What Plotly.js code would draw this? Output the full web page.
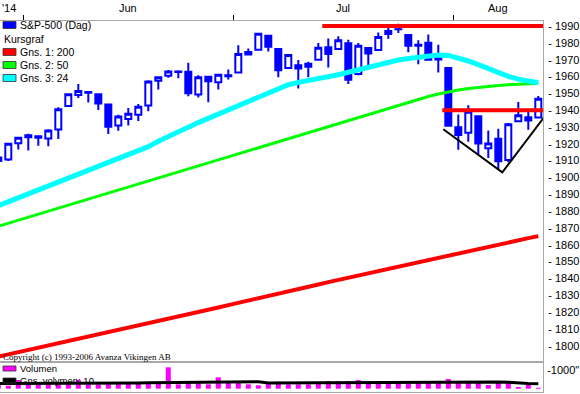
<!DOCTYPE html>
<html><head><meta charset="utf-8">
<script src="https://cdn.plot.ly/plotly-3.0.1.min.js"></script>
<style>html,body{margin:0;padding:0;background:#fff;overflow:hidden}#chart{width:580px;height:394px}</style>
</head><body><div id="chart"></div>
<script>
// ---- data (S&P-500, daily) ----
const dates = ["2014-05-28","2014-05-29","2014-05-30","2014-06-02","2014-06-03","2014-06-04","2014-06-05","2014-06-06","2014-06-09","2014-06-10","2014-06-11","2014-06-12","2014-06-13","2014-06-16","2014-06-17","2014-06-18","2014-06-19","2014-06-20","2014-06-23","2014-06-24","2014-06-25","2014-06-26","2014-06-27","2014-06-30","2014-07-01","2014-07-02","2014-07-03","2014-07-07","2014-07-08","2014-07-09","2014-07-10","2014-07-11","2014-07-14","2014-07-15","2014-07-16","2014-07-17","2014-07-18","2014-07-21","2014-07-22","2014-07-23","2014-07-24","2014-07-25","2014-07-28","2014-07-29","2014-07-30","2014-07-31","2014-08-01","2014-08-04","2014-08-05","2014-08-06","2014-08-07","2014-08-08","2014-08-11","2014-08-12","2014-08-13"];
const openPrices  = [1911.8,1910.6,1920.3,1923.9,1924.4,1923.1,1928.5,1942.4,1949.0,1950.3,1949.4,1943.4,1930.8,1934.8,1937.2,1942.7,1957.5,1960.5,1962.9,1962.8,1949.3,1959.9,1956.6,1960.8,1962.3,1973.1,1975.9,1984.2,1976.4,1965.1,1966.7,1965.8,1969.9,1977.4,1976.4,1979.8,1961.5,1976.9,1975.7,1985.3,1988.1,1984.6,1978.3,1980.0,1973.2,1965.1,1929.8,1926.6,1936.3,1917.3,1923.0,1910.4,1933.4,1935.7,1935.6];
const highPrices  = [1914.5,1920.0,1924.0,1925.9,1925.0,1928.6,1941.7,1949.4,1955.6,1950.9,1949.4,1943.4,1937.3,1941.2,1943.7,1957.7,1959.9,1963.9,1963.7,1968.2,1960.8,1959.9,1961.5,1964.2,1978.6,1976.7,1985.6,1984.2,1976.4,1972.8,1969.8,1968.7,1979.9,1982.5,1983.9,1981.8,1979.9,1976.9,1986.2,1989.2,1991.4,1984.6,1981.5,1984.9,1978.9,1965.1,1937.4,1942.9,1936.3,1927.9,1928.9,1932.4,1944.9,1939.7,1948.4];
const lowPrices   = [1907.3,1909.8,1916.6,1916.0,1918.8,1918.6,1922.9,1942.4,1947.2,1944.6,1940.1,1925.8,1927.7,1930.9,1933.6,1939.3,1952.3,1959.2,1958.9,1948.3,1947.5,1944.7,1952.2,1958.2,1962.3,1972.6,1975.9,1974.9,1959.5,1965.1,1952.9,1959.6,1969.9,1965.3,1975.7,1955.6,1960.8,1965.8,1975.7,1982.4,1985.8,1974.4,1967.3,1970.0,1962.4,1930.7,1916.4,1921.2,1913.8,1911.5,1904.8,1909.0,1933.4,1928.3,1935.6];
const closePrices = [1909.8,1920.0,1923.6,1925.0,1923.6,1927.9,1940.5,1949.4,1951.3,1950.8,1943.9,1930.1,1936.2,1937.8,1942.0,1957.0,1959.5,1962.9,1962.6,1950.0,1959.5,1957.2,1961.0,1960.2,1973.3,1974.6,1985.4,1977.7,1963.7,1972.8,1964.7,1967.6,1977.1,1973.3,1981.6,1958.1,1978.2,1973.6,1983.5,1987.0,1988.0,1978.3,1978.9,1970.0,1970.1,1930.7,1925.2,1939.0,1920.2,1920.2,1909.6,1931.6,1936.9,1933.8,1946.7];
const ma200 = [1793.5,1794.8,1796.1,1797.4,1798.7,1800.0,1801.3,1802.7,1804.0,1805.3,1806.6,1808.0,1809.3,1810.6,1812.0,1813.3,1814.6,1816.0,1817.3,1818.7,1820.0,1821.4,1822.7,1824.1,1825.4,1826.8,1828.2,1829.5,1830.9,1832.3,1833.6,1835.0,1836.4,1837.8,1839.1,1840.5,1841.9,1843.2,1844.6,1846.0,1847.3,1848.7,1850.0,1851.4,1852.7,1854.0,1855.3,1856.6,1857.9,1859.1,1860.3,1861.5,1862.7,1863.9,1865.1];
const ma50 = [1871.0,1872.8,1874.6,1876.4,1878.2,1880.0,1881.8,1883.6,1885.4,1887.2,1889.0,1890.8,1892.6,1894.4,1896.2,1898.0,1899.8,1901.6,1903.4,1905.2,1907.0,1908.8,1910.6,1912.4,1914.2,1916.0,1917.8,1919.6,1921.4,1923.2,1925.0,1926.8,1928.6,1930.4,1932.2,1934.0,1935.8,1937.6,1939.4,1941.2,1943.0,1944.8,1946.5,1948.1,1949.6,1950.9,1952.0,1952.9,1953.6,1954.2,1954.7,1955.1,1955.4,1955.7,1955.9];
const ma24 = [1883.2,1885.5,1887.8,1890.0,1892.3,1894.6,1897.0,1899.4,1901.8,1904.3,1906.6,1908.8,1911.1,1913.4,1915.7,1918.3,1921.5,1924.4,1927.3,1930.1,1932.6,1935.1,1937.6,1940.1,1942.6,1945.2,1947.8,1950.4,1953.0,1955.1,1956.5,1957.5,1958.6,1959.8,1961.0,1962.5,1964.0,1965.8,1967.5,1968.8,1969.8,1970.7,1971.5,1972.3,1972.7,1972.5,1971.2,1969.2,1967.0,1964.6,1962.2,1960.1,1958.4,1957.2,1956.3];
const volume = [235,160,465,235,235,235,235,305,465,235,235,305,305,268,268,305,342,1145,235,375,305,235,610,412,342,235,182,342,375,235,235,235,268,412,412,412,465,268,305,305,375,268,305,342,375,519,412,305,342,198,342,305,91,198,53];
const volumeAvg10 = [275,275,280,280,280,278,278,280,285,285,282,280,285,300,310,318,325,335,340,345,360,368,375,378,380,378,375,305,300,305,310,315,318,322,325,330,340,350,355,360,365,370,372,375,378,380,378,375,372,368,360,350,300,280,265];
// drawn trend lines (x = trading-day index, y = price)
const resistanceX = [32.4, 54.6], resistanceY = [1990, 1990];
const supportX = [44.4, 54.6], supportY = [1940, 1940];
const wedgeX = [44.5, 50.4, 54.6], wedgeY = [1928.6, 1903, 1936];
// labels
const monthLabels = ["'14", "Jun", "Jul", "Aug"];
const priceTicks = [1800,1810,1820,1830,1840,1850,1860,1870,1880,1890,1900,1910,1920,1930,1940,1950,1960,1970,1980,1990];
const volumeTicks = [1000];
const volumeTickText = ['-1000"'];
const legendLabels = ["S&P-500 (Dag)", "Kursgraf", "Gns. 1: 200", "Gns. 2: 50", "Gns. 3: 24"];
const legendColors = ["#0000ff", null, "#ff0000", "#00ff00", "#00ffff"];
const volLegendLabels = ["Volumen", "Gns. volymen: 10"];
const volLegendColors = ["#ff00ff", "#000000"];
const copyrightText = "Copyright (c) 1993-2006 Avanza Vikingen AB";

// ---- build ----
const idx = dates.map((d, i) => i);
const xRange = [0.17, 54.47];
const W = 543, TOP = 21, BOT = 392, H = BOT - TOP;
const px = x => x / W;
const py = y => (BOT - y) / H;

// month boundaries from dates
const bounds = [];
for (let i = 1; i < dates.length; i++) if (dates[i].slice(5, 7) !== dates[i - 1].slice(5, 7)) bounds.push(i - 0.5);
const segs = [xRange[0], ...bounds, xRange[1]];

const annotations = [];
monthLabels.forEach((m, k) => {
  if (k === 0) annotations.push({xref: 'paper', yref: 'paper', x: 0, xanchor: 'left', y: py(8), yanchor: 'middle', text: m, showarrow: false, font: {size: 11}});
  else annotations.push({xref: 'x', yref: 'paper', x: (segs[k] + segs[k + 1]) / 2, xanchor: 'center', y: py(8), yanchor: 'middle', text: m, showarrow: false, font: {size: 11}});
});
const shapes = [];
const legendRows = [25, 38.5, 52, 65, 78];
legendLabels.forEach((t, k) => {
  const yc = legendRows[k];
  const hasBox = !!legendColors[k];
  if (hasBox) shapes.push({type: 'rect', xref: 'paper', yref: 'paper', x0: px(3), x1: px(16), y0: py(yc + 3.5), y1: py(yc - 3.5), fillcolor: legendColors[k], line: {color: '#333', width: 0.8}});
  annotations.push({xref: 'paper', yref: 'paper', x: px(hasBox ? 18 : 2), xanchor: 'left', y: py(yc), yanchor: 'middle', text: t, showarrow: false, font: {size: 10.5}});
});
const volRows = [368.5, 380.5];
volLegendLabels.forEach((t, k) => {
  const yc = volRows[k];
  shapes.push({type: 'rect', xref: 'paper', yref: 'paper', x0: px(3), x1: px(16), y0: py(yc + 2.5), y1: py(yc - 2.5), fillcolor: volLegendColors[k], line: {color: '#333', width: 0.8}});
  annotations.push({xref: 'paper', yref: 'paper', x: px(18), xanchor: 'left', y: py(yc), yanchor: 'middle', text: t, showarrow: false, font: {size: 9.5}});
});
annotations.push({xref: 'paper', yref: 'paper', x: px(1), xanchor: 'left', y: py(357), yanchor: 'middle', text: copyrightText, showarrow: false, font: {family: 'Liberation Serif, Times New Roman, serif', size: 9, color: '#000'}});

const traces = [
  {type: 'candlestick', x: idx, open: openPrices, high: highPrices, low: lowPrices, close: closePrices,
   xaxis: 'x', yaxis: 'y', whiskerwidth: 0,
   increasing: {line: {color: '#0000ff', width: 2}, fillcolor: '#ffffff'},
   decreasing: {line: {color: '#0000ff', width: 2}, fillcolor: '#0000ff'},
   hoverinfo: 'skip', showlegend: false},
  {type: 'scatter', mode: 'lines', x: idx, y: ma200, line: {color: '#ff0000', width: 4}, hoverinfo: 'skip', showlegend: false},
  {type: 'scatter', mode: 'lines', x: idx, y: ma50, line: {color: '#00ff00', width: 3}, hoverinfo: 'skip', showlegend: false},
  {type: 'scatter', mode: 'lines', x: idx, y: ma24, line: {color: '#00ffff', width: 5}, hoverinfo: 'skip', showlegend: false},
  {type: 'scatter', mode: 'lines', x: resistanceX, y: resistanceY, line: {color: '#ff0000', width: 4}, hoverinfo: 'skip', showlegend: false},
  {type: 'scatter', mode: 'lines', x: supportX, y: supportY, line: {color: '#ff0000', width: 4}, hoverinfo: 'skip', showlegend: false},
  {type: 'scatter', mode: 'lines', x: wedgeX, y: wedgeY, line: {color: '#000000', width: 2}, hoverinfo: 'skip', showlegend: false},
  {type: 'bar', x: idx, y: volume, width: 0.5, xaxis: 'x2', yaxis: 'y2', marker: {color: '#ff00ff', line: {width: 0}}, hoverinfo: 'skip', showlegend: false},
  {type: 'scatter', mode: 'lines', x: idx, y: volumeAvg10, xaxis: 'x2', yaxis: 'y2', line: {color: '#000000', width: 3}, hoverinfo: 'skip', showlegend: false}
];

const font = {family: 'Liberation Sans, Arial, sans-serif', size: 11, color: '#000'};
const layout = {
  width: 580, height: 394,
  margin: {l: 0, r: 37, t: TOP, b: 2, pad: 0},
  paper_bgcolor: '#fff', plot_bgcolor: '#fff',
  font: font, showlegend: false,
  boxgap: 0.4, boxgroupgap: 0,
  xaxis: {domain: [0, 1], range: xRange, side: 'top', anchor: 'y', showline: true, mirror: true, linecolor: '#a8a8a8', linewidth: 1,
          ticks: 'outside', tickvals: bounds, ticklen: 5, tickcolor: '#000', tickwidth: 1, showticklabels: false,
          showgrid: false, zeroline: false, rangeslider: {visible: false}, fixedrange: true},
  xaxis2: {domain: [0, 1], matches: 'x', anchor: 'y2', showline: true, mirror: true, linecolor: '#a8a8a8', linewidth: 1,
           ticks: '', showticklabels: false, showgrid: false, zeroline: false, fixedrange: true},
  yaxis: {domain: [py(361), 1], range: [1790.9, 1992.97], side: 'right', anchor: 'x', showline: true, mirror: true, linecolor: '#a8a8a8', linewidth: 1,
          tickvals: priceTicks, ticktext: priceTicks.map(v => '- ' + v), ticks: '', ticklabelstandoff: 2,
          showgrid: false, zeroline: false, fixedrange: true},
  yaxis2: {domain: [0, py(363)], range: [-176.6, 1375], side: 'right', anchor: 'x2', showline: true, mirror: true, linecolor: '#a8a8a8', linewidth: 1,
           tickvals: volumeTicks, ticktext: volumeTickText, ticks: '', ticklabelstandoff: 1,
           showgrid: false, zeroline: false, fixedrange: true},
  shapes: shapes,
  annotations: annotations
};
Plotly.newPlot('chart', traces, layout, {staticPlot: true, displayModeBar: false});
</script></body></html>
